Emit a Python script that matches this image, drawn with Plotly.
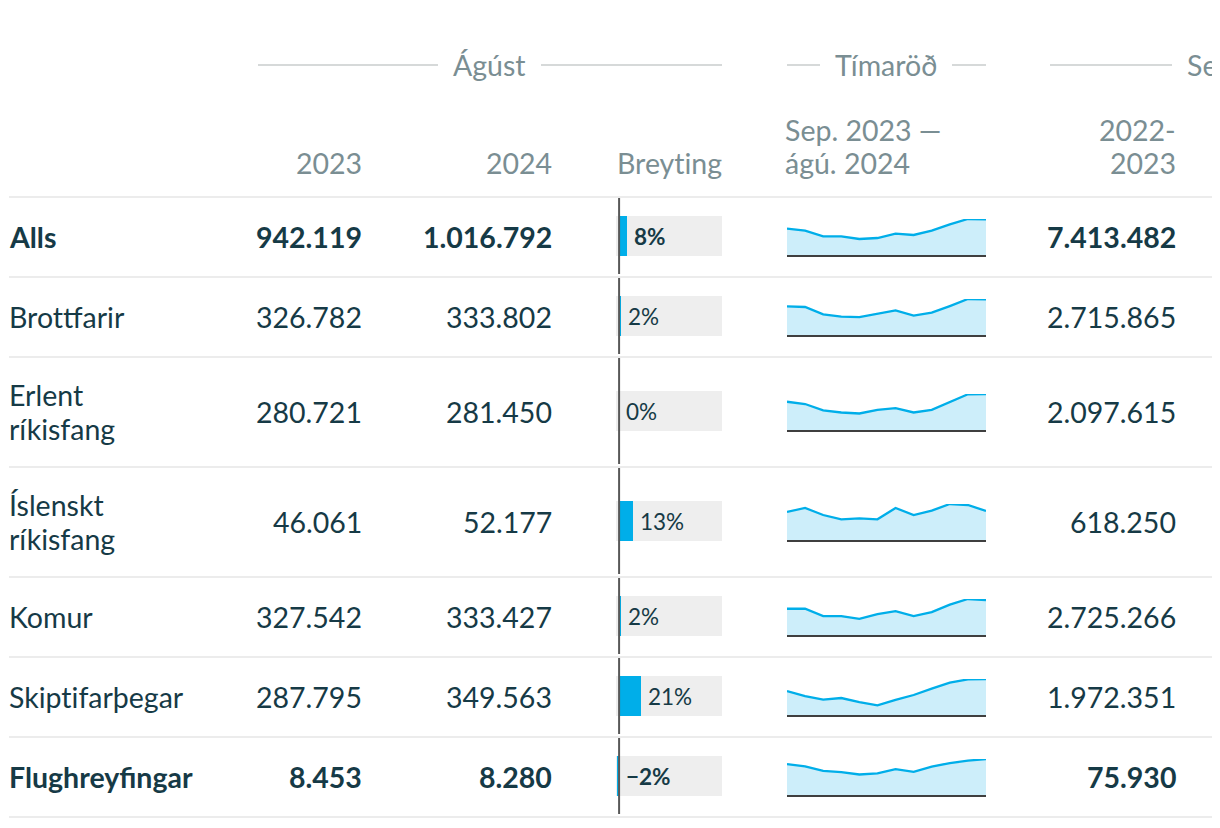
import plotly.graph_objects as go

W, H = 1220, 828

# ---------------- data ----------------
ZWNJ = "\u200c"  # keeps the browser from forming tt / ti ligatures, as in the reference
categories = ["Alls", "Brottfarir", "Erlent ríkisfang", "Íslenskt ríkisfang",
              "Komur", "Skiptifarþegar", "Flughreyfingar"]
label_lines = [["Alls"], [f"Brot{ZWNJ}tfarir"], ["Erlent", "ríkisfang"], ["Íslenskt", "ríkisfang"],
               ["Komur"], [f"Skipt{ZWNJ}ifarþegar"], ["Flughreyfingar"]]
bold_rows = [True, False, False, False, False, False, True]

aug_2023 = [942119, 326782, 280721, 46061, 327542, 287795, 8453]
aug_2024 = [1016792, 333802, 281450, 52177, 333427, 349563, 8280]
total_2022_2023 = [7413482, 2715865, 2097615, 618250, 2725266, 1972351, 75930]

months = ["sep. 2023", "okt. 2023", "nóv. 2023", "des. 2023", "jan. 2024", "feb. 2024",
          "mar. 2024", "apr. 2024", "maí 2024", "jún. 2024", "júl. 2024", "ágú. 2024"]

series_alls = [749000, 692000, 533000, 533000, 456000, 484000,
               607000, 570000, 692000, 874000, 1025000, 1016792]
series_brottfarir = [268000, 262000, 193000, 172000, 168000, 197000,
                     231000, 181000, 209000, 271000, 337000, 333802]
series_erlent = [221000, 203000, 153000, 137000, 129000, 158000,
                 171000, 137000, 158000, 216000, 279000, 281450]
series_islenskt = [50400, 57600, 45000, 37200, 39000, 37200,
                   57600, 45000, 52800, 64800, 63000, 52177]
series_komur = [250000, 250000, 180000, 180000, 154000, 199000,
                228000, 180000, 218000, 289000, 343000, 333427]
series_skipti = [233000, 184000, 149000, 165000, 126000, 94000,
                 146000, 194000, 256000, 314000, 346000, 349563]
series_flug = [7120, 6580, 5570, 5260, 4720, 4950,
               5960, 5340, 6500, 7350, 7890, 8280]
sparklines = [series_alls, series_brottfarir, series_erlent, series_islenskt,
              series_komur, series_skipti, series_flug]

group_titles = ["Ágúst", "Tímaröð", "Seinustu 12 mánuðir"]
col_headers = ["2023", "2024", f"Breyt{ZWNJ}ing"]
spark_header = ["Sep. 2023 —", "ágú. 2024"]
total_header = ["2022-", "2023"]

# ---------------- layout constants ----------------
FONT = "Lato"
DARK = "#163a46"
GREY = "#7a8e93"
SEP = "#ececec"
BLUE = "#00aee9"
FILL = "#cdeefa"
FS = 28.5
PFS = 22.5

row_heights = [80, 80, 110, 110, 80, 80, 80]
TABLE_TOP = 197
OFF = 8  # page body margin


def fx(p):
    return (p - OFF) / W


def fy(p):
    return 1 - (p - OFF) / H


def fmt(v):
    return f"{v:,}".replace(",", ".")


def pct_text(a, b):
    p = round((b / a - 1) * 100)
    return (f"−{abs(p)}%" if p < 0 else f"{p}%"), (b / a - 1) * 100


def axn(letter, n):
    return letter if n == 1 else f"{letter}{n}"


fig = go.Figure()
annotations = []
shapes = []


def txt(x, y, s, anchor, color=DARK, size=FS, bold=False, **kw):
    annotations.append(dict(
        x=fx(x), y=fy(y), xref="paper", yref="paper", text=(f"<b>{s}</b>" if bold else s),
        showarrow=False, xanchor=anchor, yanchor="middle",
        font=dict(family=FONT, size=size, color=color), **kw))


def hline(x0, x1, y, color, width):
    shapes.append(dict(type="line", xref="paper", yref="paper",
                       x0=fx(x0), x1=fx(x1), y0=fy(y), y1=fy(y),
                       line=dict(color=color, width=width)))


# column anchor positions (px)
C_LABEL = 7
C_2023 = 364
C_2024 = 554
C_BREYT = 724
C_SPARK = 785
C_TOTAL = 1178

# ---------------- header ----------------
hline(258, 438, 65, "#c9cccd", 1.5)
hline(541, 722, 65, "#c9cccd", 1.5)
txt(490, 65, group_titles[0], "center", GREY)
hline(787, 820, 65, "#c9cccd", 1.5)
hline(952, 986, 65, "#c9cccd", 1.5)
txt(886, 65, group_titles[1], "center", GREY)
hline(1050, 1172, 65, "#c9cccd", 1.5)
txt(1185, 65, group_titles[2], "left", GREY)

txt(C_2023, 163, col_headers[0], "right", GREY)
txt(C_2024, 163, col_headers[1], "right", GREY)
txt(C_BREYT, 163, col_headers[2], "right", GREY)
txt(C_SPARK - 2, 130, spark_header[0], "left", GREY)
txt(C_SPARK - 2, 163, spark_header[1], "left", GREY)
txt(C_TOTAL, 130, total_header[0], "right", GREY)
txt(C_TOTAL, 163, total_header[1], "right", GREY)

# ---------------- rows ----------------
layout_axes = {}
top = TABLE_TOP
hline(9, 1212, top, SEP, 2)
for i, rh in enumerate(row_heights):
    bot = top + rh
    cy = top + rh / 2
    b = bold_rows[i]
    lines = label_lines[i]
    if len(lines) == 1:
        txt(C_LABEL, cy, lines[0], "left", bold=b)
    else:
        txt(C_LABEL, cy - 17, lines[0], "left", bold=b)
        txt(C_LABEL, cy + 17, lines[1], "left", bold=b)
    txt(C_2023, cy, fmt(aug_2023[i]), "right", bold=b)
    txt(C_2024, cy, fmt(aug_2024[i]), "right", bold=b)
    txt(C_TOTAL, cy, fmt(total_2022_2023[i]), "right", bold=b)
    hline(9, 1212, bot, SEP, 2)

    # --- change bar subplot ---
    n = 2 * i + 1
    xa, ya = axn("x", n), axn("y", n)
    dom_h = rh - 4
    bw = 40 / dom_h
    label, pval = pct_text(aug_2023[i], aug_2024[i])
    layout_axes[axn("xaxis", n)] = dict(domain=[fx(616), fx(722)], range=[-3, 100],
                                        visible=False, fixedrange=True, anchor=ya)
    layout_axes[axn("yaxis", n)] = dict(domain=[fy(bot - 3), fy(top + 1)], range=[-0.5, 0.5],
                                        visible=False, fixedrange=True, anchor=xa)
    shapes.append(dict(type="rect", xref=f"{xa} domain", yref=ya, x0=0, x1=1,
                       y0=-bw / 2, y1=bw / 2, fillcolor="#eeeeee", line=dict(width=0),
                       layer="below"))
    fig.add_trace(go.Bar(x=[pval], y=[0], orientation="h", width=bw,
                         marker=dict(color=BLUE, line=dict(width=0)),
                         xaxis=xa, yaxis=ya, hoverinfo="skip", showlegend=False))
    shapes.append(dict(type="line", xref=xa, yref=f"{ya} domain", x0=0, x1=0,
                       y0=0, y1=1, line=dict(color="#585858", width=2), layer="above"))
    annotations.append(dict(x=max(pval, 0), y=0, xref=xa, yref=ya,
                            text=(f"<b>{label}</b>" if b else label),
                            showarrow=False, xanchor="left", yanchor="middle", xshift=5,
                            font=dict(family=FONT, size=PFS, color=DARK)))

    # --- sparkline subplot ---
    m = 2 * i + 2
    xs, ys = axn("x", m), axn("y", m)
    ser = sparklines[i]
    layout_axes[axn("xaxis", m)] = dict(domain=[fx(787), fx(986)], range=[0, len(months) - 1],
                                        showgrid=False, zeroline=False, showticklabels=False,
                                        ticks="", showline=True, linecolor="#3f3f3f", linewidth=2,
                                        fixedrange=True, anchor=ys)
    layout_axes[axn("yaxis", m)] = dict(domain=[fy(cy + 18), fy(cy - 18)], range=[0, max(ser)],
                                        visible=False, fixedrange=True, anchor=xs)
    fig.add_trace(go.Scatter(x=list(range(len(months))), y=ser, mode="lines",
                             line=dict(color=BLUE, width=2.3), fill="tozeroy", fillcolor=FILL,
                             text=months, hoverinfo="skip", showlegend=False,
                             xaxis=xs, yaxis=ys, cliponaxis=False))
    top = bot

fig.update_layout(
    width=W, height=H, margin=dict(l=0, r=0, t=0, b=0),
    paper_bgcolor="white", plot_bgcolor="rgba(0,0,0,0)",
    font=dict(family=FONT, color=DARK),
    annotations=annotations, shapes=shapes, showlegend=False,
    bargap=0, **layout_axes)

fig.write_html("out.html", config={"displayModeBar": False, "staticPlot": True})
